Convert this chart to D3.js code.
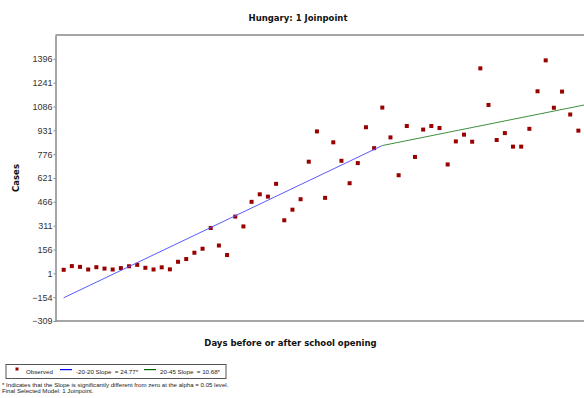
<!DOCTYPE html>
<html>
<head>
<meta charset="utf-8">
<script src="https://cdn.jsdelivr.net/npm/d3@7"></script>
<style>
  body { margin: 0; background: #fff; }
  svg { display: block; }
  .tick text { font-family: "Liberation Sans", Arial, sans-serif; font-size: 9px; fill: #333; }
  .tick line { stroke: #888; }
  .domain { stroke: #888; stroke-width: 1.5; }
</style>
</head>
<body>
<div id="chart"></div>
<script>
// days before / after school opening (no day 0)
const days = d3.range(-20, 0).concat(d3.range(1, 46));

const cases = [
  24, 48, 43, 26, 41, 32, 26, 35, 47, 56,
  37, 26, 40, 27, 76, 94, 135, 161, 296, 182,
  120, 370, 306, 466, 515, 500, 583, 346, 415, 483,
  727, 924, 492, 853, 733, 587, 718, 951, 815, 1079,
  885, 639, 959, 758, 936, 959, 946, 709, 859, 903,
  857, 1334, 1096, 868, 913, 825, 825, 941, 1185, 1386,
  1078, 1183, 1034, 929, 1045
];

// joinpoint fit
const seg1Days = [-20, 20];
const seg1Values = [-158, 832];
const seg2Days = [20, 45];
const seg2Values = [832, 1099];

const yTicks = [-309, -154, 1, 156, 311, 466, 621, 776, 931, 1086, 1241, 1396];

const width = 584, height = 398;
const plotLeft = 55.5, plotTop = 35, plotBottom = 321;

const svg = d3.select("#chart").append("svg")
  .attr("width", width)
  .attr("height", height);

const x = d3.scaleLinear()
  .domain([-1, 66])
  .range([plotLeft, plotLeft + 67 * 8.17]);

const y = d3.scaleLinear()
  .domain([-309, 1551])
  .range([plotBottom, plotTop]);

const xi = d => x(days.indexOf(d));

// title
svg.append("text")
  .attr("x", 298)
  .attr("y", 21)
  .attr("text-anchor", "middle")
  .style("font-family", "DejaVu Sans, Verdana, sans-serif")
  .style("font-weight", "bold")
  .style("font-size", "8.5px")
  .attr("fill", "#111")
  .text("Hungary: 1 Joinpoint");

// frame top / bottom
svg.append("line")
  .attr("x1", plotLeft).attr("x2", width)
  .attr("y1", plotTop).attr("y2", plotTop)
  .attr("stroke", "#888").attr("stroke-width", 1.5);

svg.append("line")
  .attr("x1", plotLeft).attr("x2", width)
  .attr("y1", plotBottom).attr("y2", plotBottom)
  .attr("stroke", "#888").attr("stroke-width", 1.5);

svg.append("g")
  .attr("transform", `translate(${plotLeft},0)`)
  .call(d3.axisLeft(y)
    .tickValues(yTicks)
    .tickSize(2)
    .tickSizeOuter(0)
    .tickPadding(1)
    .tickFormat(d3.format("d")));

// axis titles
svg.append("text")
  .attr("transform", "translate(19,178) rotate(-90)")
  .attr("text-anchor", "middle")
  .style("font-family", "DejaVu Sans, Verdana, sans-serif")
  .style("font-weight", "bold")
  .style("font-size", "8.5px")
  .attr("fill", "#111")
  .text("Cases");

svg.append("text")
  .attr("x", 290.5)
  .attr("y", 346)
  .attr("text-anchor", "middle")
  .style("font-family", "DejaVu Sans, Verdana, sans-serif")
  .style("font-weight", "bold")
  .style("font-size", "8.5px")
  .attr("fill", "#111")
  .text("Days before or after school opening");

// observed points
svg.append("g")
  .selectAll("rect")
  .data(days.map((d, i) => ({ day: d, value: cases[i] })))
  .enter().append("rect")
    .attr("x", d => xi(d.day) - 2)
    .attr("y", d => y(d.value) - 2)
    .attr("width", 4)
    .attr("height", 4)
    .attr("fill", "#990000");

// fitted segments
const line = d3.line()
  .x(d => xi(d[0]))
  .y(d => y(d[1]));

svg.append("path")
  .datum(d3.zip(seg1Days, seg1Values))
  .attr("d", line)
  .attr("fill", "none")
  .attr("stroke", "#5a5aff")
  .attr("stroke-width", 1);

svg.append("path")
  .datum(d3.zip(seg2Days, seg2Values))
  .attr("d", line)
  .attr("fill", "none")
  .attr("stroke", "#3f8f3f")
  .attr("stroke-width", 1);

// legend
const legend = svg.append("g");

legend.append("rect")
  .attr("x", 6).attr("y", 364.5)
  .attr("width", 220).attr("height", 14)
  .attr("fill", "none")
  .attr("stroke", "#555");

legend.append("rect")
  .attr("x", 15.5).attr("y", 367.5)
  .attr("width", 3).attr("height", 3)
  .attr("fill", "#990000");

legend.append("rect")
  .attr("x", 60).attr("y", 369)
  .attr("width", 12).attr("height", 1.2)
  .attr("fill", "#0000ff");

legend.append("rect")
  .attr("x", 144).attr("y", 369)
  .attr("width", 12).attr("height", 1.2)
  .attr("fill", "#006400");

const legendLabels = [
  { x: 26, text: "Observed" },
  { x: 76, text: "-20-20 Slope  = 24.77*" },
  { x: 160, text: "20-45 Slope  = 10.68*" }
];

legend.selectAll("text")
  .data(legendLabels)
  .enter().append("text")
    .attr("x", d => d.x)
    .attr("y", 373.5)
    .style("font-family", "Liberation Sans, Arial, sans-serif")
    .style("font-size", "6.2px")
    .style("white-space", "pre")
    .attr("fill", "#222")
    .text(d => d.text);

const notes = [
  "* Indicates that the Slope is significantly different from zero at the alpha = 0.05 level.",
  "Final Selected Model: 1 Joinpoint."
];

svg.append("g")
  .selectAll("text")
  .data(notes)
  .enter().append("text")
    .attr("x", 2)
    .attr("y", (d, i) => 386.5 + i * 6)
    .style("font-family", "Liberation Sans, Arial, sans-serif")
    .style("font-size", "6.1px")
    .attr("fill", "#222")
    .text(d => d);
</script>
</body>
</html>
